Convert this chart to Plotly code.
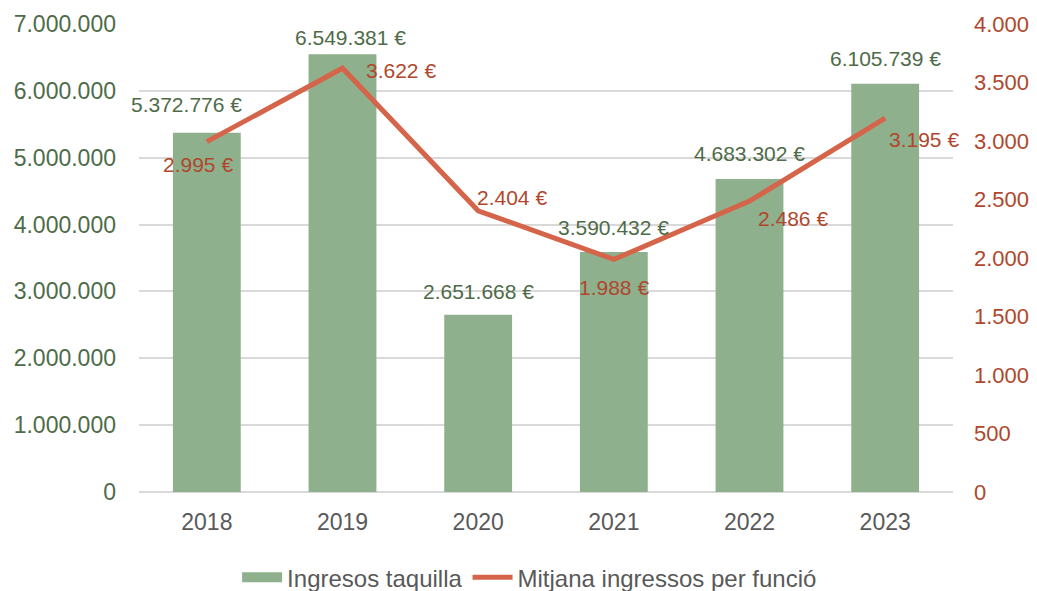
import plotly.graph_objects as go

years = ["2018", "2019", "2020", "2021", "2022", "2023"]
ingresos = [5372776, 6549381, 2651668, 3590432, 4683302, 6105739]
mitjana = [2995, 3622, 2404, 1988, 2486, 3195]
left_ticks = [0, 1000000, 2000000, 3000000, 4000000, 5000000, 6000000, 7000000]
right_ticks = [0, 500, 1000, 1500, 2000, 2500, 3000, 3500, 4000]

# label offsets in screen pixels (dx, dy up) from the mark
bar_label_shift = [(-20, 28), (8, 17), (0, 23), (0, 24), (0, 25), (0, 25)]
line_label_shift = [(-9, -23), (58, -2), (34, 13), (0, -28), (43, -17), (39, -21)]

GREEN = "#8FB08C"
GREEN_TXT = "#4E6B48"
RED = "#D5654A"
RED_TXT = "#B0472D"
FONT = "Liberation Sans, Arial, sans-serif"


def fmt(v):
    return f"{v:,}".replace(",", ".") + " €"


fig = go.Figure()
fig.add_trace(go.Bar(
    x=years, y=ingresos, name="Ingresos taquilla",
    marker=dict(color=GREEN, line=dict(width=0)),
    yaxis="y", showlegend=False,
))
# legend entry for the bars (wide swatch like the reference)
fig.add_trace(go.Scatter(
    x=[years[0]], y=[None], name="Ingresos taquilla", mode="lines",
    line=dict(color=GREEN, width=12), yaxis="y", hoverinfo="skip",
))
fig.add_trace(go.Scatter(
    x=years, y=mitjana, name="Mitjana ingressos per funció",
    mode="lines", line=dict(color=RED, width=5),
    cliponaxis=False, yaxis="y2",
))

annotations = []
for i, (v, (dx, dy)) in enumerate(zip(ingresos, bar_label_shift)):
    annotations.append(dict(x=i, y=v, xref="x", yref="y", text=fmt(v), showarrow=False,
                            xanchor="center", yanchor="middle", xshift=dx, yshift=dy,
                            font=dict(color=GREEN_TXT, size=21, family=FONT)))
for i, (v, (dx, dy)) in enumerate(zip(mitjana, line_label_shift)):
    annotations.append(dict(x=i, y=v, xref="x", yref="y2", text=fmt(v), showarrow=False,
                            xanchor="center", yanchor="middle", xshift=dx, yshift=dy,
                            font=dict(color=RED_TXT, size=21, family=FONT)))

fig.update_layout(
    width=1037, height=591,
    margin=dict(l=131, r=92, t=16, b=107, autoexpand=False),
    paper_bgcolor="white", plot_bgcolor="white",
    separators=",.",
    bargap=0.5,
    font=dict(family=FONT, size=22, color="#595959"),
    showlegend=True,
    annotations=annotations,
    legend=dict(orientation="h", xref="container", x=0.503, xanchor="center",
                yref="container", y=0.036, yanchor="middle",
                font=dict(size=24, color="#595959"), itemwidth=40, tracegroupgap=0),
    xaxis=dict(type="category", categoryorder="array", categoryarray=years,
               range=[-0.5, len(years) - 0.5],
               showgrid=False, showline=False, ticks="", ticklabelstandoff=14,
               tickfont=dict(size=23, color="#595959")),
    yaxis=dict(range=[0, 7000000], tickvals=left_ticks, tickformat=",d",
               showgrid=True, gridcolor="#D9D9D9", gridwidth=1.5,
               zeroline=True, zerolinecolor="#D9D9D9", zerolinewidth=1.5,
               showline=False, ticks="", ticklabelstandoff=22,
               tickfont=dict(size=23, color=GREEN_TXT)),
    yaxis2=dict(range=[0, 4000], tickvals=right_ticks, tickformat=",d",
                overlaying="y", side="right", showgrid=False, zeroline=False,
                showline=False, ticks="", ticklabelstandoff=20,
                tickfont=dict(size=22, color=RED_TXT)),
)

fig.write_html("out.html")
